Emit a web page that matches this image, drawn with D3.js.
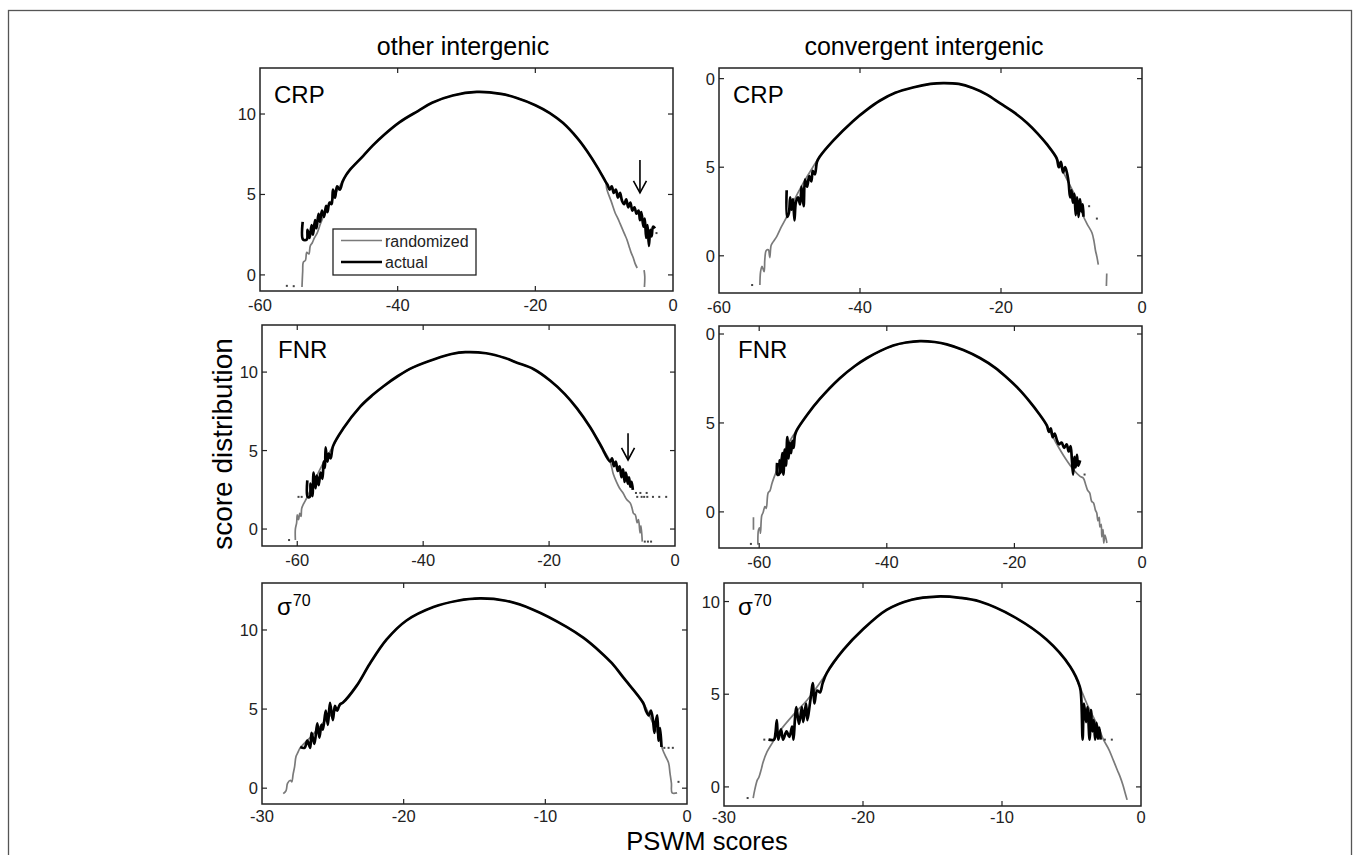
<!DOCTYPE html>
<html>
<head>
<meta charset="utf-8">
<script src="https://cdn.jsdelivr.net/npm/d3@7"></script>
<style>
  html, body { margin: 0; padding: 0; background: #fff; }
  svg { display: block; font-family: "Liberation Sans", Arial, sans-serif; }
</style>
</head>
<body>
<svg id="chart" width="1358" height="855"></svg>
<script>
// ---------------- DATA ----------------
const columnTitles = ["other intergenic", "convergent intergenic"];
const panelLabels = ["CRP", "CRP", "FNR", "FNR", "\u03c3", "\u03c3"];
const yAxisTitle = "score distribution";
const xAxisTitle = "PSWM scores";
const legendLabels = ["randomized", "actual"];
const xTicks60 = [-60, -40, -20, 0];
const xTicks30 = [-30, -20, -10, 0];
const xTickLabels60 = ["-60", "-40", "-20", "0"];
const xTickLabels30 = ["-30", "-20", "-10", "0"];
const yTicks = [0, 5, 10];
const yTickLabels = ["0", "5", "10"];

// Panel 1: CRP, other intergenic
const crpOtherCore = [[-47,6.5],[-45,7.4],[-43.6,8.05],[-42,8.7],[-39.7,9.5],[-37,10.2],[-35,10.7],[-32,11.15],[-28.5,11.37],[-25,11.25],[-22.7,11.0],[-20,10.55],[-17.9,10.06],[-16,9.45],[-13.9,8.5],[-12.5,7.7],[-11,6.7],[-9.8,5.8]];
const crpOtherActualLeft = [[-53.8,3.3],[-53.75,2.2],[-53.2,2.2],[-53.1,2.8],[-52.8,2.3],[-52.5,3.1],[-52.3,2.5],[-52.0,3.4],[-51.8,2.9],[-51.5,3.8],[-51.3,3.3],[-51.0,4.0],[-50.7,3.6],[-50.4,4.3],[-50.2,3.9],[-49.9,4.5],[-49.6,4.4],[-49.4,5.3],[-49.1,4.8],[-48.8,5.5],[-48.4,5.3],[-48,5.8],[-47.5,6.2]];
const crpOtherActualRight = [[-9.5,5.6],[-9.2,5.3],[-8.9,5.5],[-8.6,5.1],[-8.3,5.3],[-8.0,4.8],[-7.7,5.1],[-7.4,4.6],[-7.1,4.4],[-6.8,4.7],[-6.5,4.2],[-6.2,4.5],[-5.9,4.0],[-5.6,4.2],[-5.3,3.8],[-5.0,4.0],[-4.8,3.4],[-4.6,3.9],[-4.3,3.0],[-4.1,3.5],[-3.9,2.3],[-3.7,3.1],[-3.5,1.8],[-3.3,2.8],[-3.1,2.4],[-2.9,3.0],[-2.6,2.9]];
const crpOtherRandomLeft = [[-53.9,-0.75],[-53.8,0.2],[-53.7,0.8],[-53.4,0.9],[-53.2,1.4],[-52.9,1.3],[-52.7,1.8],[-52.4,2.0],[-52.1,2.3],[-51.7,2.6],[-51.2,3.2],[-50.5,3.9],[-49.5,4.7],[-48.3,5.6]];
const crpOtherRandomRight = [[-9.6,5.3],[-9.0,4.6],[-8.4,3.85],[-8.0,3.5],[-7.7,3.2],[-7.3,2.8],[-7.0,2.5],[-6.7,2.2],[-6.4,1.8],[-6.1,1.4],[-5.8,1.1],[-5.5,0.7],[-5.2,0.43],null,[-4.2,0.3],[-4.1,-0.1],[-4.15,-0.75]];
const crpOtherDots = [[-56.1,-0.68],[-55.1,-0.7],[-2.4,2.6]];

// Panel 2: CRP, convergent intergenic
const crpConvCore = [[-45.7,5.6],[-43.8,6.5],[-41,7.6],[-39,8.25],[-37.2,8.75],[-35,9.2],[-32.5,9.5],[-30,9.7],[-28.2,9.75],[-26,9.7],[-24,9.47],[-22,9.1],[-20.1,8.6],[-18,8.05],[-16.3,7.5],[-14.8,6.9],[-13.5,6.3],[-12.1,5.5]];
const crpConvActualLeft = [[-50.4,3.7],[-50.35,2.2],[-50.1,2.4],[-49.9,3.3],[-49.7,2.6],[-49.5,3.2],[-49.3,2.0],[-49.1,3.0],[-48.8,3.3],[-48.5,2.9],[-48.3,3.9],[-48.0,2.8],[-47.8,4.3],[-47.5,3.9],[-47.2,4.5],[-46.9,4.2],[-46.7,4.8],[-46.4,4.6],[-46.1,5.3]];
const crpConvActualRight = [[-11.8,5.0],[-11.5,5.3],[-11.2,4.7],[-10.9,5.0],[-10.6,4.6],[-10.4,4.1],[-10.2,3.3],[-10.0,3.7],[-9.8,3.0],[-9.6,3.5],[-9.4,2.3],[-9.2,3.3],[-9.0,2.2],[-8.8,3.2],[-8.6,2.5],[-8.4,2.9],[-8.3,2.2]];
const crpConvRandomLeft = [[-54.2,-1.65],[-54.1,-0.9],[-53.9,-0.6],[-53.6,-0.9],[-53.5,-0.2],[-53.3,0.3],[-53.0,0.34],[-52.8,-0.1],[-52.6,0.6],[-52.3,0.8],[-51.8,1.1],[-51.2,1.6],[-50.4,2.2],[-49.5,3.0],[-48.2,4.0],[-47,4.8]];
const crpConvRandomRight = [[-11,4.6],[-10,3.8],[-9,3.0],[-8.4,2.3],[-7.8,1.8],[-7.1,1.3],[-6.8,0.8],[-6.6,0.3],[-6.4,-0.05],[-6.2,-0.5],null,[-5.0,-1.0],[-5.05,-1.7]];
const crpConvDots = [[-55.3,-1.65],[-7.5,2.8],[-6.4,2.1]];

// Panel 3: FNR, other intergenic
const fnrOtherCore = [[-54.3,5.3],[-52.7,6.4],[-50,7.8],[-48,8.55],[-46.3,9.1],[-44,9.75],[-41.6,10.3],[-38,10.85],[-35.5,11.15],[-33.3,11.27],[-30,11.2],[-27,10.9],[-25.1,10.6],[-22.5,10.2],[-19.8,9.45],[-17.5,8.6],[-15.6,7.7],[-13.5,6.5],[-11.9,5.4],[-10.3,4.3]];
const fnrOtherActualLeft = [[-58.4,3.1],[-58.35,2.05],[-58.0,2.05],[-57.9,2.9],[-57.6,2.1],[-57.4,3.6],[-57.1,2.6],[-56.9,3.4],[-56.6,2.8],[-56.3,3.6],[-56.0,3.2],[-55.8,4.3],[-55.6,3.9],[-55.5,5.2],[-55.2,4.3],[-55.0,4.8],[-54.7,4.5]];
const fnrOtherActualRight = [[-10.0,4.5],[-9.7,4.0],[-9.4,4.3],[-9.1,3.7],[-8.8,4.0],[-8.5,3.3],[-8.25,3.8],[-8.0,3.0],[-7.8,3.6],[-7.5,2.9],[-7.3,3.3],[-7.1,2.7],[-6.9,3.0],[-6.7,2.5]];
const fnrOtherRandomLeft = [[-60.3,-0.7],[-60.3,0.0],[-60.1,0.4],[-60.0,0.9],[-59.8,0.6],[-59.6,1.0],[-59.4,0.8],[-59.3,1.3],[-59.0,1.6],[-58.6,1.9],[-58.4,2.05],[-57.8,2.6],[-57,3.3],[-56,4.1],[-55,4.8]];
const fnrOtherRandomRight = [[-9.8,3.5],[-9.3,3.0],[-8.8,2.6],[-8.25,2.3],[-7.7,1.9],[-7.1,1.65],[-6.8,1.3],[-6.6,1.0],[-6.3,0.9],[-6.0,0.4],[-5.8,0.6],[-5.55,-0.25],[-5.4,0.2],[-5.2,-0.8]];
const fnrOtherDots = [[-59.8,2.05],[-59.3,2.05],[-61.3,-0.7],[-6.2,2.3],[-6.0,2.05],[-5.5,2.3],[-5.3,2.05],[-4.9,2.05],[-4.5,2.3],[-4.4,2.05],[-3.5,2.05],[-2.5,2.05],[-1.4,2.05],[-4.8,-0.8],[-4.3,-0.8],[-3.8,-0.8]];

// Panel 4: FNR, convergent intergenic
const fnrConvCore = [[-54.1,4.6],[-52.5,5.45],[-50.5,6.35],[-47.4,7.5],[-45,8.2],[-43.1,8.65],[-41,9.05],[-39,9.35],[-37,9.52],[-34.8,9.6],[-32.5,9.55],[-30.6,9.42],[-28,9.1],[-25.4,8.65],[-23,8.1],[-21.2,7.55],[-19.3,6.9],[-17.6,6.2],[-16.2,5.55],[-14.9,4.85]];
const fnrConvActualLeft = [[-57.2,2.75],[-57.15,2.1],[-56.9,2.1],[-56.8,2.9],[-56.6,2.2],[-56.4,3.3],[-56.2,2.1],[-56.0,3.5],[-55.8,2.6],[-55.6,4.2],[-55.4,3.0],[-55.2,3.9],[-55.0,3.3],[-54.8,4.0],[-54.6,3.6],[-54.4,4.3]];
const fnrConvActualRight = [[-14.6,4.5],[-14.3,4.7],[-14.0,4.2],[-13.7,4.4],[-13.3,4.0],[-13.0,3.8],[-12.6,3.9],[-12.2,3.6],[-11.8,3.8],[-11.5,3.4],[-11.2,3.7],[-11.0,3.0],[-10.8,2.1],[-10.6,3.1],[-10.4,2.5],[-10.2,3.2],[-10.0,2.6],[-9.7,2.9]];
const fnrConvRandomLeft = [[-60.9,-0.3],[-60.9,-1.0],null,[-60.2,-1.85],[-60.1,-1.0],[-59.9,-0.9],[-59.8,-1.2],[-59.6,-0.2],[-59.4,-0.05],[-59.1,0.3],[-58.9,0.2],[-58.6,1.07],[-58.3,1.2],[-58.0,1.6],[-57.5,2.1],[-56.5,3.0],[-55.5,3.8]];
const fnrConvRandomRight = [[-13.5,3.9],[-12,3.0],[-10.8,2.4],[-9.7,2.0],[-9.2,1.9],[-8.8,1.5],[-8.5,1.2],[-8.2,1.07],[-7.9,0.6],[-7.6,0.5],[-7.3,0.1],[-7.1,-0.05],[-6.9,-0.5],[-6.7,-0.3],[-6.6,-0.85],[-6.4,-0.7],[-6.3,-1.4],[-6.1,-1.0],[-6.0,-1.75],[-5.8,-1.3],[-5.5,-1.75]];
const fnrConvDots = [[-9.0,2.1],[-61.3,-1.8]];

// Panel 5: sigma70, other intergenic
const sigOtherCore = [[-24.3,5.4],[-23.3,6.5],[-22.4,7.85],[-21.2,9.4],[-19.8,10.6],[-17.9,11.45],[-16.2,11.85],[-14.6,12.0],[-12.8,11.85],[-10.9,11.3],[-8.5,10.2],[-7.3,9.5],[-6.1,8.6],[-5.3,7.9],[-4.5,7.0],[-3.1,5.4]];
const sigOtherActualLeft = [[-27.3,2.6],[-27.0,2.55],[-26.8,3.0],[-26.6,2.55],[-26.5,3.5],[-26.3,2.8],[-26.1,4.1],[-25.95,3.2],[-25.8,4.0],[-25.7,3.7],[-25.5,4.9],[-25.35,4.0],[-25.2,5.4],[-25.0,4.3],[-24.85,5.2],[-24.7,4.9],[-24.5,5.3]];
const sigOtherActualRight = [[-2.9,4.9],[-2.7,4.6],[-2.55,4.9],[-2.4,4.3],[-2.3,3.5],[-2.2,4.2],[-2.1,4.6],[-2.0,3.0],[-1.9,3.8],[-1.8,2.6]];
const sigOtherRandomLeft = [[-28.5,-0.35],[-28.3,-0.15],[-28.2,0.3],[-28.0,0.5],[-27.9,0.4],[-27.8,0.9],[-27.7,1.35],[-27.6,2.0],[-27.5,2.2],[-27.3,2.55],[-26.5,3.3],[-25.5,4.3]];
const sigOtherRandomRight = [[-2.5,4.3],[-2.0,3.3],[-1.7,2.4],[-1.5,2.0],[-1.3,1.6],[-1.2,0.95],[-1.1,0.3],[-1.05,-0.3],[-0.7,-0.3]];
const sigOtherDots = [[-1.6,2.55],[-1.3,2.55],[-1.0,2.55],[-0.6,0.4]];

// Panel 6: sigma70, convergent intergenic
const sigConvCore = [[-22.6,6.15],[-21.4,7.4],[-20,8.5],[-18.3,9.55],[-16.5,10.1],[-14.7,10.27],[-13,10.2],[-11.6,10.0],[-9.2,9.2],[-6.8,7.95],[-5.1,6.5],[-4.4,5.4]];
const sigConvActualLeft = [[-26.8,2.55],[-26.4,2.55],[-26.3,2.9],[-26.2,3.6],[-26.1,2.55],[-25.9,3.1],[-25.75,2.55],[-25.5,3.0],[-25.3,2.7],[-25.1,3.25],[-25.0,2.55],[-24.9,3.6],[-24.8,4.3],[-24.6,3.4],[-24.4,4.3],[-24.3,3.5],[-24.1,4.5],[-24.0,3.6],[-23.8,4.6],[-23.6,5.6],[-23.5,4.5],[-23.3,5.2],[-23.1,5.1],[-22.9,5.6]];
const sigConvActualRight = [[-4.3,4.8],[-4.2,2.55],[-4.1,4.5],[-3.95,3.5],[-3.85,4.3],[-3.7,2.55],[-3.6,4.15],[-3.5,3.0],[-3.4,3.6],[-3.3,2.55],[-3.2,3.45],[-3.1,2.6],[-3.0,3.2],[-2.9,2.55]];
const sigConvRandomLeft = [[-27.9,-0.6],[-27.8,-0.2],[-27.6,0.38],[-27.5,0.5],[-27.3,1.0],[-27.2,1.3],[-26.9,1.9],[-26.5,2.4],[-26,3.0],[-25,3.9],[-24,4.7]];
const sigConvRandomRight = [[-3.9,4.5],[-3.45,3.8],[-3.0,3.1],[-2.7,2.55],[-2.3,2.0],[-2.0,1.46],[-1.7,0.9],[-1.5,0.54],[-1.3,0.1],[-1.15,-0.3],[-1.0,-0.7]];
const sigConvDots = [[-27.1,2.55],[-2.6,2.55],[-2.1,2.55],[-28.3,-0.6]];

// Arrows marking the enriched tail (x, yTop, yTip)
const crpOtherArrow = [-4.8, 7.14, 5.1];
const fnrOtherArrow = [-7.46, 6.1, 4.4];

// ---------------- DRAW ----------------
const svg = d3.select("#chart");

// outer frame
svg.append("rect").attr("x", 8.5).attr("y", 10.5).attr("width", 1343).attr("height", 900)
  .attr("fill", "none").attr("stroke", "#555").attr("stroke-width", 1.3);

const panels = [
  { box: [260, 68, 673, 291], xDom: [-60, 0], yDom: [-1, 12.86], xt: xTicks60, xl: xTickLabels60,
    core: crpOtherCore, aL: crpOtherActualLeft, aR: crpOtherActualRight, rL: crpOtherRandomLeft, rR: crpOtherRandomRight, dots: crpOtherDots, label: panelLabels[0], arrow: crpOtherArrow, lx: 274, ly: 103, xlOff: 20 },
  { box: [719, 68, 1142, 293], xDom: [-60, 0], yDom: [-2.1, 10.6], xt: xTicks60, xl: xTickLabels60, clipLabels: true,
    core: crpConvCore, aL: crpConvActualLeft, aR: crpConvActualRight, rL: crpConvRandomLeft, rR: crpConvRandomRight, dots: crpConvDots, label: panelLabels[1], lx: 733, ly: 103, xlOff: 20 },
  { box: [262, 325, 675, 546], xDom: [-65.6, 0], yDom: [-1.08, 13.0], xt: xTicks60, xl: xTickLabels60,
    core: fnrOtherCore, aL: fnrOtherActualLeft, aR: fnrOtherActualRight, rL: fnrOtherRandomLeft, rR: fnrOtherRandomRight, dots: fnrOtherDots, label: panelLabels[2], arrow: fnrOtherArrow, lx: 278, ly: 358, xlOff: 20 },
  { box: [719, 326, 1142, 548], xDom: [-66.3, 0], yDom: [-2.03, 10.45], xt: xTicks60, xl: xTickLabels60, clipLabels: true,
    core: fnrConvCore, aL: fnrConvActualLeft, aR: fnrConvActualRight, rL: fnrConvRandomLeft, rR: fnrConvRandomRight, dots: fnrConvDots, label: panelLabels[3], lx: 738, ly: 358, xlOff: 20 },
  { box: [262, 583, 687, 804], xDom: [-30, 0], yDom: [-1.0, 12.97], xt: xTicks30, xl: xTickLabels30,
    core: sigOtherCore, aL: sigOtherActualLeft, aR: sigOtherActualRight, rL: sigOtherRandomLeft, rR: sigOtherRandomRight, dots: sigOtherDots, label: panelLabels[4], sup: "70", lx: 277, ly: 615, xlOff: 18 },
  { box: [724, 583, 1141, 806], xDom: [-30, 0], yDom: [-1.03, 11.0], xt: xTicks30, xl: xTickLabels30,
    core: sigConvCore, aL: sigConvActualLeft, aR: sigConvActualRight, rL: sigConvRandomLeft, rR: sigConvRandomRight, dots: sigConvDots, label: panelLabels[5], sup: "70", lx: 738, ly: 615, xlOff: 17 }
];

const defs = svg.append("defs");
defs.append("clipPath").attr("id", "rightLabelClip")
  .append("rect").attr("x", 706).attr("y", 0).attr("width", 700).attr("height", 570);

panels.forEach((p, i) => {
  const [x0, y0, x1, y1] = p.box;
  const x = d3.scaleLinear().domain(p.xDom).range([x0, x1]);
  const y = d3.scaleLinear().domain(p.yDom).range([y1, y0]);
  const g = svg.append("g");

  defs.append("clipPath").attr("id", "plotClip" + i)
    .append("rect").attr("x", x0).attr("y", y0).attr("width", x1 - x0).attr("height", y1 - y0);

  const line = d3.line().defined(d => d != null).x(d => x(d[0])).y(d => y(d[1]))
    .curve(d3.curveCatmullRom.alpha(0.5));
  const plot = g.append("g").attr("clip-path", `url(#plotClip${i})`);

  const randomSeries = p.rL.concat(p.core, p.rR);
  const actualSeries = p.aL.concat(p.core, p.aR);

  plot.append("path").datum(randomSeries).attr("d", line)
    .attr("fill", "none").attr("stroke", "#7a7a7a").attr("stroke-width", 1.7).attr("stroke-linejoin", "round");
  plot.selectAll("rect.dot").data(p.dots).join("rect")
    .attr("x", d => x(d[0]) - 1).attr("y", d => y(d[1]) - 1).attr("width", 2).attr("height", 2)
    .attr("fill", "#444");
  plot.append("path").datum(actualSeries).attr("d", line)
    .attr("fill", "none").attr("stroke", "#000").attr("stroke-width", 2.7).attr("stroke-linejoin", "round");

  // axes box
  g.append("rect").attr("x", x0).attr("y", y0).attr("width", x1 - x0).attr("height", y1 - y0)
    .attr("fill", "none").attr("stroke", "#222").attr("stroke-width", 1.5);

  const tl = 5;
  const ax = g.append("g").attr("stroke", "#222").attr("stroke-width", 1.2);
  p.xt.forEach(t => {
    const px = x(t);
    if (px > x0 + 1 && px < x1 - 1) {
      ax.append("line").attr("x1", px).attr("x2", px).attr("y1", y1).attr("y2", y1 - tl);
      ax.append("line").attr("x1", px).attr("x2", px).attr("y1", y0).attr("y2", y0 + tl);
    }
  });
  yTicks.forEach(t => {
    const py = y(t);
    ax.append("line").attr("x1", x0).attr("x2", x0 + tl).attr("y1", py).attr("y2", py);
    ax.append("line").attr("x1", x1).attr("x2", x1 - tl).attr("y1", py).attr("y2", py);
  });

  // tick labels
  const xl = g.append("g").attr("font-size", 16.5).attr("fill", "#222").attr("text-anchor", "middle");
  p.xt.forEach((t, k) => {
    xl.append("text").attr("x", x(t)).attr("y", y1 + p.xlOff).text(p.xl[k]);
  });
  const yl = g.append("g").attr("font-size", 16.5).attr("fill", "#222").attr("text-anchor", "end");
  if (p.clipLabels) yl.attr("clip-path", "url(#rightLabelClip)");
  yTicks.forEach((t, k) => {
    yl.append("text").attr("x", x0 - 4).attr("y", y(t) + 6).text(yTickLabels[k]);
  });

  // panel label
  const lab = g.append("text").attr("x", p.lx).attr("y", p.ly).attr("font-size", 24).attr("fill", "#000");
  lab.append("tspan").text(p.label);
  if (p.sup) {
    lab.append("tspan").attr("font-size", 16).attr("dy", -9).attr("dx", 1).text(p.sup);
  }

  // arrow
  if (p.arrow) {
    const ax0 = x(p.arrow[0]), ya = y(p.arrow[1]), yb = y(p.arrow[2]);
    const ar = g.append("g").attr("stroke", "#000").attr("stroke-width", 1.6).attr("fill", "none");
    ar.append("line").attr("x1", ax0).attr("x2", ax0).attr("y1", ya).attr("y2", yb);
    ar.append("path").attr("d", `M${ax0 - 6.5},${yb - 12} L${ax0},${yb} L${ax0 + 6.5},${yb - 12}`);
  }

  // legend in first panel
  if (i === 0) {
    const lg = g.append("g");
    lg.append("rect").attr("x", 333).attr("y", 229).attr("width", 143).attr("height", 46)
      .attr("fill", "#fff").attr("stroke", "#222").attr("stroke-width", 1.3);
    lg.append("line").attr("x1", 341).attr("x2", 382).attr("y1", 240.5).attr("y2", 240.5)
      .attr("stroke", "#7a7a7a").attr("stroke-width", 1.7);
    lg.append("line").attr("x1", 341).attr("x2", 382).attr("y1", 262).attr("y2", 262)
      .attr("stroke", "#000").attr("stroke-width", 2.7);
    lg.append("text").attr("x", 385).attr("y", 246.5).attr("font-size", 16).attr("fill", "#222").text(legendLabels[0]);
    lg.append("text").attr("x", 385).attr("y", 268).attr("font-size", 16).attr("fill", "#222").text(legendLabels[1]);
  }
});

// column titles
svg.append("text").attr("x", 463).attr("y", 55).attr("text-anchor", "middle")
  .attr("font-size", 25).attr("fill", "#000").text(columnTitles[0]);
svg.append("text").attr("x", 924).attr("y", 55).attr("text-anchor", "middle")
  .attr("font-size", 25).attr("fill", "#000").text(columnTitles[1]);

// axis titles
svg.append("text").attr("transform", "translate(232,444) rotate(-90)").attr("text-anchor", "middle")
  .attr("font-size", 28).attr("fill", "#000").text(yAxisTitle);
svg.append("text").attr("x", 707).attr("y", 850).attr("text-anchor", "middle")
  .attr("font-size", 25.5).attr("fill", "#000").text(xAxisTitle);
</script>
</body>
</html>
